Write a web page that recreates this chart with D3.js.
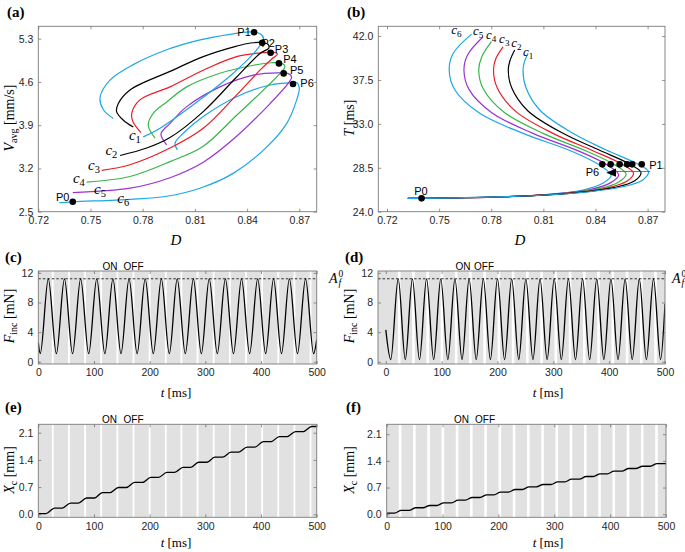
<!DOCTYPE html>
<html><head><meta charset="utf-8">
<script src="https://cdn.jsdelivr.net/npm/d3@7"></script>
<style>
body{margin:0;background:#fff}
svg{display:block}
</style>
</head><body>
<script>
// ---------------- DATA ----------------
// Panel (a): D vs V_avg, each curve from lower start to inner end
const aC1 = [[0.7803,3.71],[0.7900,3.85],[0.8129,4.31],[0.8320,4.74],[0.8455,5.12],[0.8495,5.30],[0.8475,5.38],[0.8420,5.41],[0.8300,5.37],[0.8130,5.28],[0.7938,5.12],[0.7746,4.88],[0.7612,4.63],[0.7555,4.35],[0.7574,4.15],[0.7631,4.01]];
const aC2 = [[0.7670,3.41],[0.7823,3.53],[0.7957,3.70],[0.8148,4.12],[0.8340,4.68],[0.8474,5.06],[0.8525,5.15],[0.8520,5.21],[0.8487,5.235],[0.8420,5.23],[0.8340,5.18],[0.8148,5.01],[0.7957,4.77],[0.7727,4.47],[0.7660,4.25],[0.7650,4.12],[0.7689,3.98],[0.7746,3.87]];
const aC3 = [[0.7564,3.17],[0.7727,3.26],[0.7957,3.53],[0.8148,3.85],[0.8340,4.39],[0.8474,4.79],[0.8550,4.99],[0.8575,5.05],[0.8555,5.08],[0.8500,5.075],[0.8340,5.01],[0.8148,4.79],[0.7957,4.52],[0.7784,4.31],[0.7737,4.09],[0.7745,3.95],[0.7790,3.78]];
const aC4 = [[0.7478,2.98],[0.7727,3.07],[0.7957,3.31],[0.8148,3.56],[0.8340,4.06],[0.8513,4.52],[0.8600,4.77],[0.8618,4.85],[0.8600,4.90],[0.8540,4.91],[0.8436,4.87],[0.8244,4.74],[0.8053,4.52],[0.7940,4.28],[0.7860,4.09],[0.7832,3.90],[0.7871,3.69]];
const aC5 = [[0.7398,2.81],[0.7727,2.88],[0.7957,3.05],[0.8148,3.30],[0.8340,3.72],[0.8532,4.25],[0.8637,4.58],[0.8656,4.68],[0.8640,4.73],[0.8590,4.745],[0.8436,4.71],[0.8244,4.52],[0.8053,4.20],[0.7957,3.93],[0.7905,3.76],[0.7938,3.58]];
const aC6 = [[0.7321,2.646],[0.7398,2.66],[0.7727,2.70],[0.7938,2.75],[0.8129,2.88],[0.8320,3.12],[0.8514,3.55],[0.8628,3.93],[0.8685,4.31],[0.8700,4.50],[0.8685,4.59],[0.8640,4.585],[0.8532,4.55],[0.8340,4.36],[0.8148,4.04],[0.8033,3.77],[0.7986,3.61],[0.7999,3.50]];
const aPoints = [["P0",0.7398,2.66],["P1",0.8440,5.403],["P2",0.8487,5.234],["P3",0.8535,5.072],["P4",0.8583,4.900],["P5",0.8610,4.738],["P6",0.8664,4.566]];
const aCurveLabels = [["1",0.7755,3.73],["2",0.7620,3.48],["3",0.7520,3.24],["4",0.7433,3.03],["5",0.7555,2.85],["6",0.7688,2.70]];

// Panel (b): D vs T, each curve from top end down to P0
const bC1 = [[0.8012,40.23],[0.7990,39.30],[0.7983,38.50],[0.7998,36.80],[0.8079,34.42],[0.8270,32.03],[0.8462,30.32],[0.8634,28.96],[0.8705,28.10],[0.8672,27.25],[0.8557,26.56],[0.8270,25.89],[0.7888,25.54],[0.7600,25.42],[0.7400,25.37],[0.7320,25.37]];
const bC2 = [[0.7935,40.57],[0.7908,39.49],[0.7898,38.50],[0.7917,36.73],[0.8010,34.35],[0.8213,32.03],[0.8424,30.29],[0.8592,28.92],[0.8662,28.02],[0.8626,27.18],[0.8511,26.49],[0.8232,25.85],[0.7870,25.53],[0.7600,25.42],[0.7400,25.37],[0.7320,25.37]];
const bC3 = [[0.7868,40.90],[0.7826,39.67],[0.7813,38.50],[0.7835,36.67],[0.7941,34.28],[0.8155,32.03],[0.8385,30.25],[0.8550,28.89],[0.8619,27.94],[0.8580,27.11],[0.8465,26.42],[0.8194,25.82],[0.7853,25.52],[0.7600,25.42],[0.7400,25.37],[0.7320,25.37]];
const bC4 = [[0.7801,41.42],[0.7745,39.86],[0.7728,38.50],[0.7754,36.60],[0.7872,34.22],[0.8098,32.03],[0.8347,30.22],[0.8507,28.85],[0.8576,27.86],[0.8534,27.05],[0.8420,26.36],[0.8156,25.78],[0.7835,25.51],[0.7600,25.42],[0.7400,25.37],[0.7320,25.37]];
const bC5 = [[0.7753,41.93],[0.7663,40.04],[0.7643,38.50],[0.7672,36.54],[0.7803,34.15],[0.8040,32.03],[0.8308,30.18],[0.8465,28.82],[0.8533,27.78],[0.8488,26.98],[0.8374,26.29],[0.8118,25.75],[0.7818,25.50],[0.7600,25.42],[0.7400,25.37],[0.7320,25.37]];
const bC6 = [[0.7687,42.20],[0.7581,40.23],[0.7558,38.52],[0.7591,36.47],[0.7734,34.08],[0.7983,32.03],[0.8270,30.15],[0.8423,28.78],[0.8490,27.70],[0.8442,26.91],[0.8328,26.22],[0.8080,25.71],[0.7800,25.50],[0.7600,25.42],[0.7400,25.37],[0.7320,25.37]];
const bDots = [0.8439,0.8487,0.8539,0.8582,0.8611,0.8666];
const bDotT = 28.85;
const bP0 = [0.7399,25.37];
const bCurveLabels = [["6",0.7600,42.6],["5",0.7725,42.5],["4",0.7800,42.15],["3",0.7875,41.65],["2",0.7945,41.25],["1",0.8012,40.4]];

// Panel (c): F_inc extrema (time ms, force mN)
const cExtT = [0,3.5,18,32.5,47,61.5,76,90.5,105,119.5,134,148.5,163,177.5,192,206.5,221,235.3,249.5,264,278.5,292.8,307,321.5,336,350.5,365,379.5,394,408.3,422.5,436.8,451,465.5,480,494.5,500];
const cExtF = [2.6,1.1,11.2,1.1,11.2,1.1,11.2,1.1,11.2,1.1,11.2,1.1,11.2,1.1,11.2,1.1,11.2,1.1,11.2,1.1,11.2,1.1,11.2,1.1,11.2,1.1,11.2,1.1,11.2,1.1,11.2,1.1,11.2,1.1,11.2,1.1,3.0];
const cOff = [26,55,84,113,142,171,200,229,257,286,315,344,373,402,431,460,489];
// Panel (d)
const dExtT = [0,8.8,22.2,34.9,47.6,60.3,73.0,85.7,98.4,111.1,123.8,136.5,149.2,161.9,174.6,187.3,200.0,212.7,225.4,238.1,250.8,263.5,276.2,288.9,301.6,314.3,327.0,339.7,352.4,365.1,377.8,390.5,403.2,415.9,428.6,441.3,454.0,466.7,479.4,492.1,500];
const dExtF = [4.3,0.3,11.2,0.3,11.2,0.3,11.2,0.3,11.2,0.3,11.2,0.3,11.2,0.3,11.2,0.3,11.2,0.3,11.2,0.3,11.2,0.3,11.2,0.3,11.2,0.3,11.2,0.3,11.2,0.3,11.2,0.3,11.2,0.3,11.2,0.3,11.2,0.3,11.2,0.3,7.8];
const dOff = [24,49.5,75,100.5,126,151.5,177,202.5,228,253.5,279,304.5,330,355.5,381,406.5,432,457.5,483];
const Af0 = 11.2;

// Panel (e): X_c staircase
const eLevels = [0.02,0.16,0.29,0.42,0.56,0.69,0.82,0.95,1.08,1.21,1.34,1.47,1.60,1.73,1.87,2.00,2.13,2.26];
const eRiseStart = [14,43,72,101,129,158,187,216,245,274,303,331,360,389,418,447,476];
const eRiseEnd = [29,58,87,115,144,173,202,231,260,288,317,346,375,404,433,462,491];
// Panel (f)
const fLevels = [0.03,0.10,0.17,0.23,0.30,0.37,0.44,0.51,0.58,0.65,0.72,0.78,0.85,0.92,0.99,1.06,1.13,1.20,1.26,1.33];
const fRiseStart = [14,40,65,90,116,141,167,192,218,243,268,294,319,345,370,395,421,446,472];
const fRiseEnd = [26,52,77,102,128,153,179,204,230,255,280,306,331,357,382,407,433,458,484];

const tTicks = [0,100,200,300,400,500];

// ---------------- DRAWING ----------------
const BLUE='#1ea6e6', RED='#ec1c24', GREEN='#39b54a', PURPLE='#9a33d4', BLACK='#000000';
const SANS='"Liberation Sans", Arial, Helvetica, sans-serif';
const SERIF='"Liberation Serif", "Times New Roman", "DejaVu Serif", serif';
const svg = d3.select('body').append('svg').attr('width',685).attr('height',552);
const defs = svg.append('defs');
let clipN = 0;

function makePanel(c){
  const x = d3.scaleLinear().domain(c.xd).range([c.l,c.r]);
  const y = d3.scaleLinear().domain(c.yd).range([c.b,c.t]);
  const id = 'clip'+(clipN++);
  defs.append('clipPath').attr('id',id).append('rect')
    .attr('x',c.l).attr('y',c.t).attr('width',c.r-c.l).attr('height',c.b-c.t);
  const g = svg.append('g');
  const bg = g.append('g').attr('clip-path',`url(#${id})`);
  const plot = g.append('g').attr('clip-path',`url(#${id})`);
  const top = g.append('g');
  return {x,y,g,bg,plot,top,c};
}
function drawAxes(p){
  const c=p.c, g=p.g.append('g');
  const ts=3;
  const none=()=> '';
  g.append('g').attr('transform',`translate(0,${c.b})`)
    .call(d3.axisBottom(p.x).tickValues(c.xt).tickSizeInner(-ts).tickSizeOuter(0).tickPadding(5).tickFormat(c.xlab? c.xf : none));
  g.append('g').attr('transform',`translate(0,${c.t})`)
    .call(d3.axisTop(p.x).tickValues(c.xt).tickSizeInner(-ts).tickSizeOuter(0).tickFormat(none));
  g.append('g').attr('transform',`translate(${c.l},0)`)
    .call(d3.axisLeft(p.y).tickValues(c.yt).tickSizeInner(-ts).tickSizeOuter(0).tickPadding(5).tickFormat(c.yf));
  g.append('g').attr('transform',`translate(${c.r},0)`)
    .call(d3.axisRight(p.y).tickValues(c.yt).tickSizeInner(-ts).tickSizeOuter(0).tickFormat(none));
  g.selectAll('.domain').remove();
  g.selectAll('.tick line').attr('stroke','#4d4d4d').attr('stroke-width',0.6);
  g.selectAll('.tick text').attr('fill','#262626').style('font-size','10.5px').style('font-family',SANS);
  g.append('rect').attr('x',c.l).attr('y',c.t).attr('width',c.r-c.l).attr('height',c.b-c.t)
    .attr('fill','none').attr('stroke','#7a7a7a').attr('stroke-width',0.9);
}
function panelLabel(txt,x,y){
  svg.append('text').attr('x',x).attr('y',y).text(txt)
    .style('font-family',SERIF).style('font-weight','bold').style('font-size','15px').attr('fill','#000');
}
function yTitle(x,y,parts){
  const t = svg.append('text').attr('transform',`translate(${x},${y}) rotate(-90)`)
    .attr('text-anchor','middle').style('font-family',SERIF).style('font-size','14px').attr('fill','#000');
  parts.forEach(pp=>{
    const s=t.append('tspan').text(pp.t);
    if(pp.i) s.style('font-style','italic');
    if(pp.sub){ s.attr('baseline-shift','-25%').style('font-size','10px'); }
  });
}
function tTitle(x,y){
  const t=svg.append('text').attr('x',x).attr('y',y).attr('text-anchor','middle')
    .style('font-family',SERIF).style('font-size','13px').attr('fill','#000');
  t.append('tspan').text('t').style('font-style','italic');
  t.append('tspan').text(' [ms]');
}
function dTitle(x,y){
  svg.append('text').attr('x',x).attr('y',y).attr('text-anchor','middle')
    .style('font-family',SERIF).style('font-style','italic').style('font-size','15px').text('D');
}
function cLabel(g,x,y,n,size){
  const t=g.append('text').attr('x',x).attr('y',y).attr('text-anchor','middle')
    .style('font-family',SERIF).style('font-size',size+'px').attr('fill','#000');
  t.append('tspan').text('c').style('font-style','italic');
  t.append('tspan').text(n).attr('baseline-shift','-30%').style('font-size',(size*0.7)+'px');
}

const curveColors=[BLUE,BLACK,RED,GREEN,PURPLE,BLUE];
const f2=d3.format('.2f'), f1=d3.format('.1f'), f0=d3.format('d');

// ---- Panel (a)
const pa = makePanel({l:38.3,r:316.7,t:26.3,b:211.7,xd:[0.72,0.88],yd:[2.5,5.5],
  xt:[0.72,0.75,0.78,0.81,0.84,0.87],yt:[2.5,3.2,3.9,4.6,5.3],xlab:true,xf:f2,yf:f1});
const lineA = d3.line().x(d=>pa.x(d[0])).y(d=>pa.y(d[1])).curve(d3.curveCatmullRom.alpha(0.5));
[aC6,aC5,aC4,aC3,aC2,aC1].forEach((cv,i)=>{
  pa.plot.append('path').attr('d',lineA(cv)).attr('fill','none')
    .attr('stroke',curveColors[5-i]).attr('stroke-width',1.2);
});
aPoints.forEach(p=>{
  pa.top.append('circle').attr('cx',pa.x(p[1])).attr('cy',pa.y(p[2])).attr('r',3.3).attr('fill','#000');
});
const aPL = {P0:[-10,-5],P1:[-10,0],P2:[6,0],P3:[11,-4],P4:[11,-4],P5:[13,-3],P6:[14,-1]};
aPoints.forEach(p=>{
  const o=aPL[p[0]];
  pa.top.append('text').attr('x',pa.x(p[1])+o[0]).attr('y',pa.y(p[2])+o[1]+4).attr('text-anchor','middle')
    .style('font-family',SANS).style('font-size','11px').text(p[0]);
});
aCurveLabels.forEach(l=>cLabel(pa.top,pa.x(l[1]),pa.y(l[2])+4,l[0],15));
drawAxes(pa);
panelLabel('(a)',7,17);
dTitle(176,245);
yTitle(14,118,[{t:'V',i:true},{t:'avg',sub:true},{t:' [mm/s]'}]);

// ---- Panel (b)
const pb = makePanel({l:378.3,r:665,t:26.3,b:211.7,xd:[0.715,0.88],yd:[24,43],
  xt:[0.72,0.75,0.78,0.81,0.84,0.87],yt:[24,28.5,33,37.5,42],xlab:true,xf:f2,yf:f1});
const lineB = d3.line().x(d=>pb.x(d[0])).y(d=>pb.y(d[1])).curve(d3.curveCatmullRom.alpha(0.5));
[bC6,bC5,bC4,bC3,bC2,bC1].forEach((cv,i)=>{
  pb.plot.append('path').attr('d',lineB(cv)).attr('fill','none')
    .attr('stroke',curveColors[5-i]).attr('stroke-width',1.2);
});
bDots.forEach(d=>pb.top.append('circle').attr('cx',pb.x(d)).attr('cy',pb.y(bDotT)).attr('r',3.3).attr('fill','#000'));
pb.top.append('circle').attr('cx',pb.x(bP0[0])).attr('cy',pb.y(bP0[1])).attr('r',3.3).attr('fill','#000');
// arrow P1 -> P6
pb.top.append('line').attr('x1',pb.x(0.8715)).attr('x2',pb.x(0.8505)).attr('y1',pb.y(28.12)).attr('y2',pb.y(28.12))
  .attr('stroke','#555').attr('stroke-width',0.8);
{
  const tx=pb.x(0.8462), ty=pb.y(28.0), bx=pb.x(0.8518);
  pb.top.append('path').attr('d',`M${tx},${ty} L${bx},${ty-4.2} L${bx},${ty+4.2} Z`).attr('fill','#000');
}
pb.top.append('text').attr('x',656).attr('y',168.5).attr('text-anchor','middle').style('font-family',SANS).style('font-size','11px').text('P1');
pb.top.append('text').attr('x',592.5).attr('y',175.5).attr('text-anchor','middle').style('font-family',SANS).style('font-size','11px').text('P6');
pb.top.append('text').attr('x',421).attr('y',194.5).attr('text-anchor','middle').style('font-family',SANS).style('font-size','11px').text('P0');
bCurveLabels.forEach(l=>cLabel(pb.top,pb.x(l[1]),pb.y(l[2])+4,l[0],13));
drawAxes(pb);
panelLabel('(b)',347,17);
dTitle(520,245);
yTitle(354,118,[{t:'T',i:true},{t:' [ms]'}]);

// ---- time panels
function timePanel(cfg, offs, offW){
  const p = makePanel(cfg);
  p.bg.append('rect').attr('x',cfg.l).attr('y',cfg.t).attr('width',cfg.r-cfg.l).attr('height',cfg.b-cfg.t).attr('fill','#e1e1e1');
  offs.forEach(o=>{
    p.bg.append('rect').attr('x',p.x(o)-offW/2).attr('y',cfg.t).attr('width',offW).attr('height',cfg.b-cfg.t).attr('fill','#ffffff');
  });
  return p;
}
function onOff(x1,x2,y){
  svg.append('text').attr('x',x1).attr('y',y).attr('text-anchor','middle').style('font-family',SANS).style('font-size','10px').text('ON');
  svg.append('text').attr('x',x2).attr('y',y).attr('text-anchor','middle').style('font-family',SANS).style('font-size','10px').text('OFF');
}
function afLabel(x,y){
  const g=svg.append('g').style('font-family',SERIF).attr('fill','#000');
  g.append('text').attr('x',x).attr('y',y).style('font-size','14px').style('font-style','italic').text('A');
  g.append('text').attr('x',x+9.5).attr('y',y-6.5).style('font-size','9.5px').text('0');
  g.append('text').attr('x',x+9.5).attr('y',y+3).style('font-size','9.5px').style('font-style','italic').text('f');
}

// (c)
const pc = timePanel({l:38.3,r:316.7,t:271,b:364,xd:[0,500],yd:[-0.3,12.25],xt:tTicks,yt:[0,4,8,12],xlab:true,xf:f0,yf:f0}, cOff, 1.8);
const lineC = d3.line().x((d,i)=>pc.x(cExtT[i])).y(d=>pc.y(d)).curve(d3.curveMonotoneX);
pc.plot.append('line').attr('x1',pc.c.l).attr('x2',pc.c.r).attr('y1',pc.y(Af0)).attr('y2',pc.y(Af0)).attr('stroke','#000').attr('stroke-width',0.8).attr('stroke-dasharray','2.5,2');
pc.plot.append('path').attr('d',lineC(cExtF)).attr('fill','none').attr('stroke','#000').attr('stroke-width',1.3);
drawAxes(pc);
panelLabel('(c)',5,262);
onOff(110,133.5,269.5);
afLabel(329,283);
tTitle(176,397);
yTitle(14,316,[{t:'F',i:true},{t:'inc',sub:true},{t:'  [mN]'}]);

// (d)
const pd = timePanel({l:378,r:665,t:271,b:364,xd:[-14,500],yd:[-0.3,12.25],xt:tTicks,yt:[0,4,8,12],xlab:true,xf:f0,yf:f0}, dOff, 2.6);
const lineD = d3.line().x((d,i)=>pd.x(dExtT[i])).y(d=>pd.y(d)).curve(d3.curveMonotoneX);
pd.plot.append('line').attr('x1',pd.c.l).attr('x2',pd.c.r).attr('y1',pd.y(Af0)).attr('y2',pd.y(Af0)).attr('stroke','#000').attr('stroke-width',0.8).attr('stroke-dasharray','2.5,2');
pd.plot.append('path').attr('d',lineD(dExtF)).attr('fill','none').attr('stroke','#000').attr('stroke-width',1.3);
drawAxes(pd);
panelLabel('(d)',345,262);
onOff(463,484,269.5);
afLabel(672,283);
tTitle(548,397);
yTitle(354,316,[{t:'F',i:true},{t:'inc',sub:true},{t:'  [mN]'}]);

// (e)
function stairPts(levels, rs, re){
  const pts=[[0,levels[0]]];
  rs.forEach((s,i)=>{ pts.push([s,levels[i]]); pts.push([re[i],levels[i+1]]); });
  pts.push([500,levels[levels.length-1]]);
  return pts;
}
const pe = timePanel({l:38.3,r:316.7,t:424.3,b:517.3,xd:[0,500],yd:[-0.077,2.316],xt:tTicks,yt:[0,0.7,1.4,2.1],xlab:true,xf:f0,yf:f1}, cOff, 1.8);
const lineE = d3.line().x(d=>pe.x(d[0])).y(d=>pe.y(d[1])).curve(d3.curveMonotoneX);
pe.plot.append('path').attr('d',lineE(stairPts(eLevels,eRiseStart,eRiseEnd))).attr('fill','none').attr('stroke','#000').attr('stroke-width',1.3);
drawAxes(pe);
panelLabel('(e)',5,412);
onOff(109.5,133.5,422.5);
tTitle(176,547);
yTitle(14,470,[{t:'X',i:true},{t:'c',sub:true},{t:' [mm]'}]);

// (f)
const pf = timePanel({l:386.7,r:666,t:424.3,b:517.3,xd:[0,500],yd:[-0.08,2.36],xt:tTicks,yt:[0,0.7,1.4,2.1],xlab:true,xf:f0,yf:f1}, dOff, 2.6);
const lineF = d3.line().x(d=>pf.x(d[0])).y(d=>pf.y(d[1])).curve(d3.curveMonotoneX);
pf.plot.append('path').attr('d',lineF(stairPts(fLevels,fRiseStart,fRiseEnd))).attr('fill','none').attr('stroke','#000').attr('stroke-width',1.3);
drawAxes(pf);
panelLabel('(f)',346,412);
onOff(461.5,485,422.5);
tTitle(548,547);
yTitle(354,470,[{t:'X',i:true},{t:'c',sub:true},{t:' [mm]'}]);
</script>
</body></html>
